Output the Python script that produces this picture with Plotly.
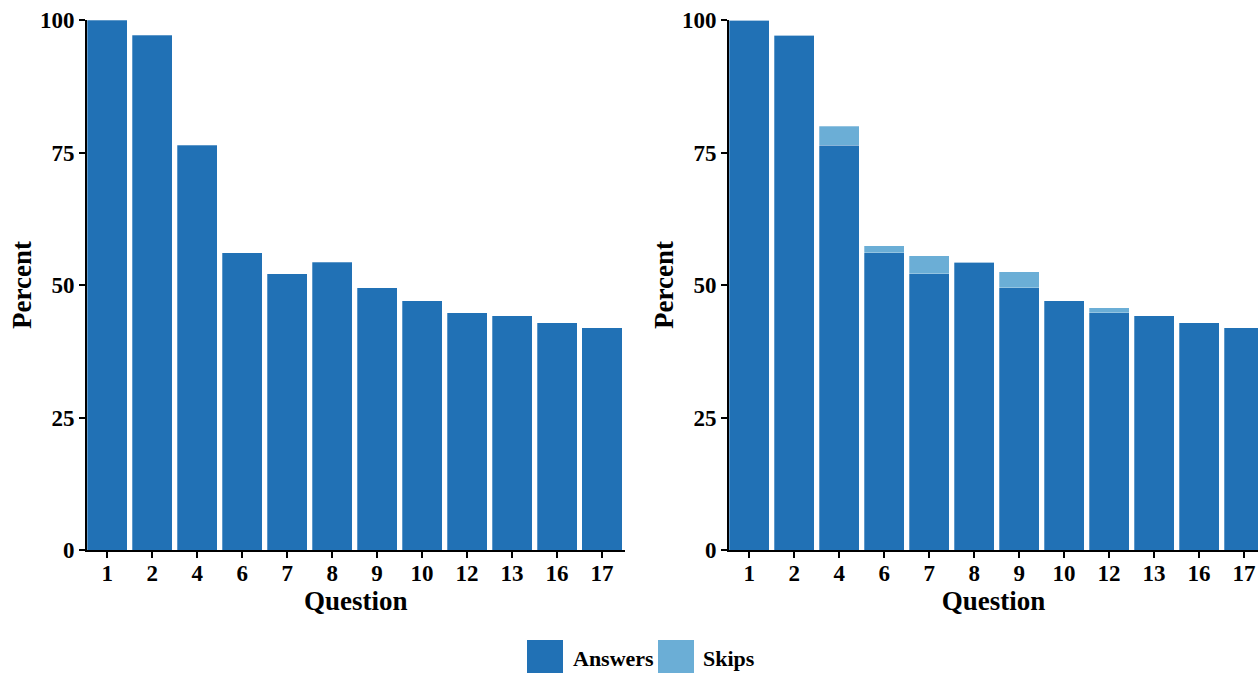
import plotly.graph_objects as go

questions = ["1", "2", "4", "6", "7", "8", "9", "10", "12", "13", "16", "17"]
answers = [100, 97.1, 76.4, 56.1, 52.1, 54.3, 49.5, 47.0, 44.8, 44.2, 42.9, 41.9]
skips = [0, 0, 3.6, 1.3, 3.4, 0, 3.0, 0, 0.9, 0, 0, 0]
legend_labels = ["Answers", "Skips"]

C_ANS = "#2171b5"
C_SKIP = "#6baed6"
EDGE = dict(width=0.8, color="rgba(255,255,255,0.35)")
FONT = "Liberation Serif"

fig = go.Figure()
fig.add_trace(go.Bar(x=questions, y=answers, name="Answers", marker_color=C_ANS,
                     marker_line=EDGE, xaxis="x", yaxis="y", showlegend=False))
fig.add_trace(go.Bar(x=questions, y=answers, name="Answers", marker_color=C_ANS,
                     marker_line=EDGE, xaxis="x2", yaxis="y2", showlegend=False))
fig.add_trace(go.Bar(x=questions, y=skips, name="Skips", marker_color=C_SKIP,
                     marker_line=EDGE, xaxis="x2", yaxis="y2", showlegend=False))

W, H = 1258, 673
TOP, BOT = 20, 550
PH = BOT - TOP

def px(xpage):
    return xpage / W

def py(ypage):
    return (BOT - ypage) / PH

axis_common = dict(
    showline=True, linecolor="black", linewidth=2, ticks="outside", tickcolor="black",
    ticklen=6, tickwidth=2, showgrid=False, zeroline=False,
    tickfont=dict(family=FONT, size=23, color="black", weight="bold"),
)
xcommon = dict(axis_common, type="category", ticklabelstandoff=-5,
               title=dict(text="<b>Question</b>", font=dict(family=FONT, size=27, color="black"), standoff=0))
ycommon = dict(axis_common, range=[0, 100], tickvals=[0, 25, 50, 75, 100],
               title=dict(text="<b>Percent</b>", font=dict(family=FONT, size=27, color="black"), standoff=0))

# custom legend (large keys like the reference)
shapes = []
annotations = []
key_x = [527, 658]
text_x = [571, 701]
for lab, col, kx, tx in zip(legend_labels, [C_ANS, C_SKIP], key_x, text_x):
    shapes.append(dict(type="rect", xref="paper", yref="paper",
                       x0=px(kx), x1=px(kx + 36), y0=py(676), y1=py(640),
                       fillcolor=col, line=dict(width=0), layer="above"))
    annotations.append(dict(text="<b>%s</b>" % lab, xref="paper", yref="paper",
                            x=px(tx), y=py(658), xanchor="left", yanchor="middle",
                            showarrow=False, font=dict(family=FONT, size=22, color="black")))

fig.update_layout(
    width=W, height=H,
    margin=dict(l=0, r=0, t=TOP, b=H - BOT, autoexpand=False),
    paper_bgcolor="white", plot_bgcolor="white",
    barmode="stack", bargap=0.11,
    showlegend=False,
    xaxis=dict(xcommon, domain=[px(87), px(624.5)], range=[-0.45, 11.5], anchor="y"),
    yaxis=dict(ycommon, domain=[0, 1], anchor="x"),
    xaxis2=dict(xcommon, domain=[px(729), 1.0], range=[-0.45, 11.31], anchor="y2"),
    yaxis2=dict(ycommon, domain=[0, 1], anchor="x2"),
    shapes=shapes, annotations=annotations,
    font=dict(family=FONT, color="black"),
)

fig.write_html(
    "out.html",
    config={"displayModeBar": False},
    post_script="document.body.style.margin='0';document.body.style.overflow='hidden';",
)
